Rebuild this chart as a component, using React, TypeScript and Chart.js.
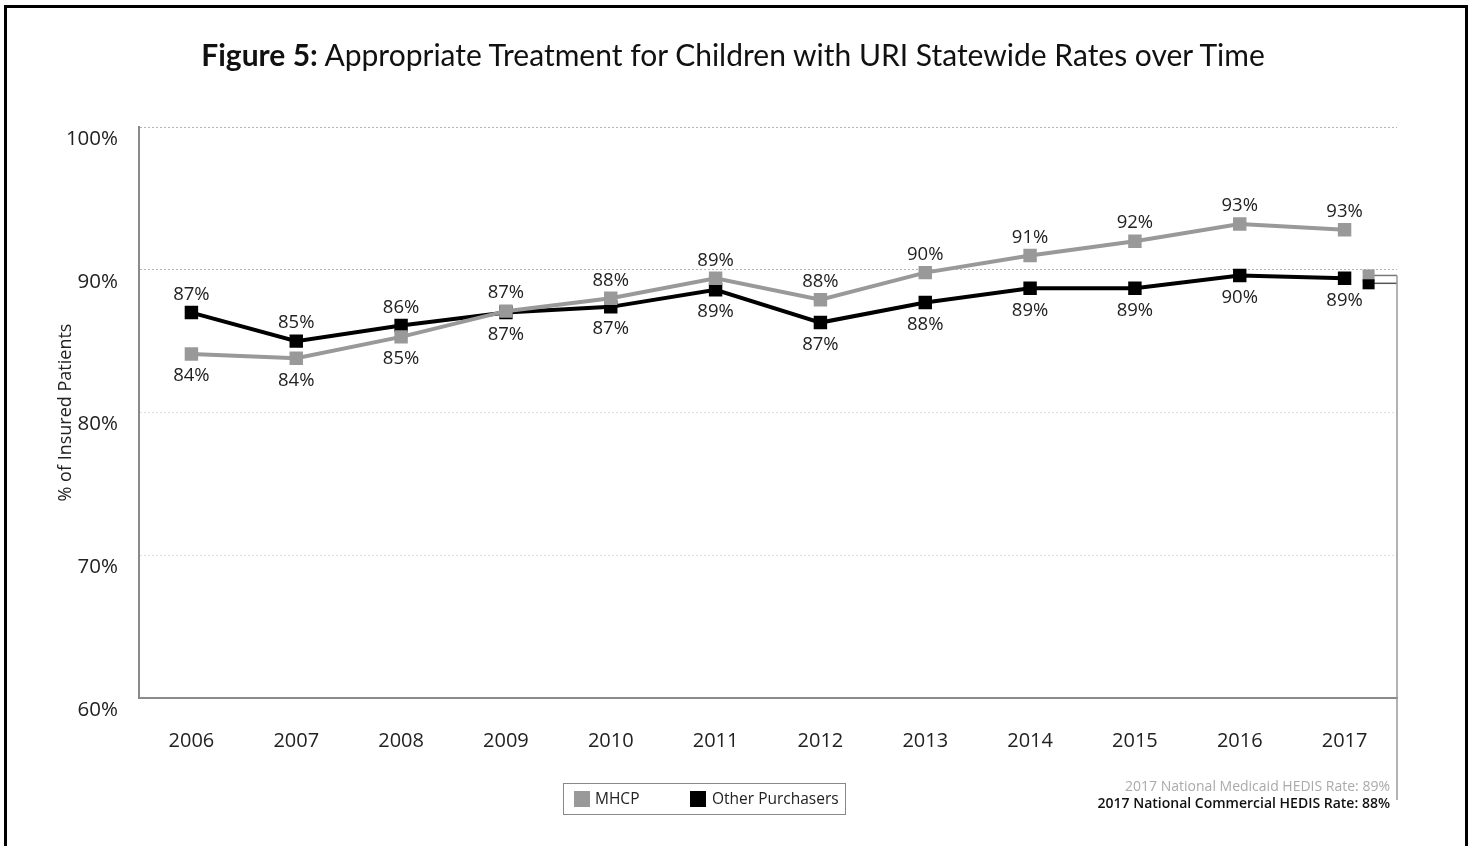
import React, { useEffect, useRef } from "react";
import { Chart, registerables } from "chart.js";

Chart.register(...registerables);

const years = ["2006", "2007", "2008", "2009", "2010", "2011", "2012", "2013", "2014", "2015", "2016", "2017"];
const mhcpValues = [84.1, 83.8, 85.3, 87.1, 88.0, 89.4, 87.9, 89.8, 91.0, 92.0, 93.2, 92.8];
const otherValues = [87.0, 85.0, 86.1, 87.0, 87.4, 88.6, 86.3, 87.7, 88.7, 88.7, 89.6, 89.4];
const mhcpLabels = ["84%", "84%", "85%", "87%", "88%", "89%", "88%", "90%", "91%", "92%", "93%", "93%"];
const otherLabels = ["87%", "85%", "86%", "87%", "87%", "89%", "87%", "88%", "89%", "89%", "90%", "89%"];
const yTicks = [60, 70, 80, 90, 100];
const hedisMarkers = [89.6, 89.05]; // Medicaid, Commercial marker positions as drawn
const hedisTexts = ["2017 National Medicaid HEDIS Rate: 89%", "2017 National Commercial HEDIS Rate: 88%"];
const seriesNames = ["MHCP", "Other Purchasers"];

const GRAY = "#999999";
const BLACK = "#000000";
const FONT = "'Open Sans', sans-serif";

const labelPlugin = {
  id: "pointLabels",
  afterDatasetsDraw(chart: any) {
    const ctx = chart.ctx;
    const m0 = chart.getDatasetMeta(0);
    const m1 = chart.getDatasetMeta(1);
    ctx.save();
    ctx.font = `18.5px ${FONT}`;
    ctx.fillStyle = "#222";
    ctx.textAlign = "center";
    ctx.textBaseline = "middle";
    for (let i = 0; i < years.length; i++) {
      const grayAbove = mhcpValues[i] >= otherValues[i];
      const p0 = m0.data[i];
      const p1 = m1.data[i];
      ctx.fillText(mhcpLabels[i], p0.x, grayAbove ? p0.y - 18 : p0.y + 22);
      ctx.fillText(otherLabels[i], p1.x, grayAbove ? p1.y + 22 : p1.y - 18);
    }
    // HEDIS markers
    const xs = chart.scales.x;
    const ys = chart.scales.y;
    const mx = xs.getPixelForValue(11) + 24;
    const right = chart.chartArea.right;
    const gy = ys.getPixelForValue(hedisMarkers[0]);
    const by = ys.getPixelForValue(hedisMarkers[1]);
    ctx.lineWidth = 1.5;
    ctx.strokeStyle = "#777";
    ctx.beginPath();
    ctx.moveTo(mx, gy);
    ctx.lineTo(right, gy);
    ctx.stroke();
    ctx.strokeStyle = "#555";
    ctx.beginPath();
    ctx.moveTo(mx, by);
    ctx.lineTo(right, by);
    ctx.stroke();
    ctx.strokeStyle = "#999";
    ctx.beginPath();
    ctx.moveTo(right, gy);
    ctx.lineTo(right, 800);
    ctx.stroke();
    ctx.fillStyle = GRAY;
    ctx.fillRect(mx - 6, gy - 6, 12, 12);
    ctx.fillStyle = BLACK;
    ctx.fillRect(mx - 6, by - 4, 12, 10);
    ctx.restore();
  },
};

export default function App() {
  const ref = useRef<HTMLCanvasElement | null>(null);

  useEffect(() => {
    document.body.style.overflow = "hidden";
    const chart = new Chart(ref.current as HTMLCanvasElement, {
      type: "line",
      data: {
        labels: years,
        datasets: [
          {
            label: seriesNames[0],
            data: mhcpValues,
            borderColor: GRAY,
            backgroundColor: GRAY,
            borderWidth: 4,
            pointStyle: "rect",
            pointRadius: 9.5,
            pointBorderWidth: 0,
            pointBackgroundColor: GRAY,
            tension: 0,
          },
          {
            label: seriesNames[1],
            data: otherValues,
            borderColor: BLACK,
            backgroundColor: BLACK,
            borderWidth: 4,
            pointStyle: "rect",
            pointRadius: 9.5,
            pointBorderWidth: 0,
            pointBackgroundColor: BLACK,
            tension: 0,
          },
        ],
      },
      options: {
        responsive: false,
        animation: false,
        layout: { padding: { left: 51, right: 75, top: 127, bottom: 0 } },
        plugins: {
          legend: { display: false },
          tooltip: { enabled: false },
          title: { display: false },
        },
        scales: {
          x: {
            type: "category",
            offset: true,
            grid: { display: false, drawTicks: false },
            border: { display: true, color: "#8a8a8a", width: 2 },
            ticks: { color: "#222", font: { family: FONT, size: 20 }, padding: 31 },
            afterFit: (s: any) => {
              s.height = 148;
            },
          },
          y: {
            min: 60,
            max: 100,
            afterBuildTicks: (s: any) => {
              s.ticks = yTicks.map((v) => ({ value: v }));
            },
            grid: {
              drawTicks: false,
              lineWidth: 1,
              color: (c: any) => (c.tick && c.tick.value >= 90 ? "#b5b5b5" : "#dddddd"),
            },
            border: { display: true, color: "#8a8a8a", width: 2, dash: [2, 2] },
            ticks: {
              color: "#222",
              font: { family: FONT, size: 20.5 },
              padding: 21,
              labelOffset: 12,
              callback: (v: any) => `${v}%`,
            },
            title: {
              display: true,
              text: "% of Insured Patients",
              color: "#222",
              font: { family: FONT, size: 18 },
              padding: { top: 4, bottom: 4 },
            },
            afterFit: (s: any) => {
              s.width = 88;
            },
          },
        },
      },
      plugins: [labelPlugin],
    });
    return () => chart.destroy();
  }, []);

  return (
    <div>
      <div
        style={{
          position: "fixed",
          left: 4,
          top: 5,
          width: 1464,
          height: 900,
          boxSizing: "border-box",
          border: "3px solid #000",
          borderBottom: "none",
        }}
      />
      <canvas ref={ref} width={1472} height={846} style={{ position: "fixed", left: 0, top: 0 }} />
      <div
        style={{
          position: "fixed",
          left: 0,
          top: 35,
          width: 1466,
          textAlign: "center",
          fontFamily: "Lato, sans-serif",
          fontSize: 30,
          color: "#111",
          lineHeight: "38px",
        }}
      >
        <b>Figure 5:</b> Appropriate Treatment for Children with URI Statewide Rates over Time
      </div>
      <div
        style={{
          position: "fixed",
          left: 563,
          top: 783,
          width: 283,
          height: 32,
          boxSizing: "border-box",
          border: "1px solid #888",
          fontFamily: FONT,
          fontSize: 15.5,
          color: "#222",
        }}
      >
        <span style={{ position: "absolute", left: 10, top: 7, width: 16, height: 16, background: GRAY }} />
        <span style={{ position: "absolute", left: 31, top: 4, lineHeight: "21px" }}>{seriesNames[0]}</span>
        <span style={{ position: "absolute", left: 126, top: 7, width: 16, height: 16, background: BLACK }} />
        <span style={{ position: "absolute", left: 148, top: 4, lineHeight: "21px" }}>{seriesNames[1]}</span>
      </div>
      <div
        style={{
          position: "fixed",
          right: 1472 - 1390,
          top: 777,
          textAlign: "right",
          fontFamily: FONT,
          fontSize: 14,
          lineHeight: "17px",
        }}
      >
        <div style={{ color: "#aaa" }}>{hedisTexts[0]}</div>
        <div style={{ color: "#111", fontWeight: 600 }}>{hedisTexts[1]}</div>
      </div>
    </div>
  );
}
